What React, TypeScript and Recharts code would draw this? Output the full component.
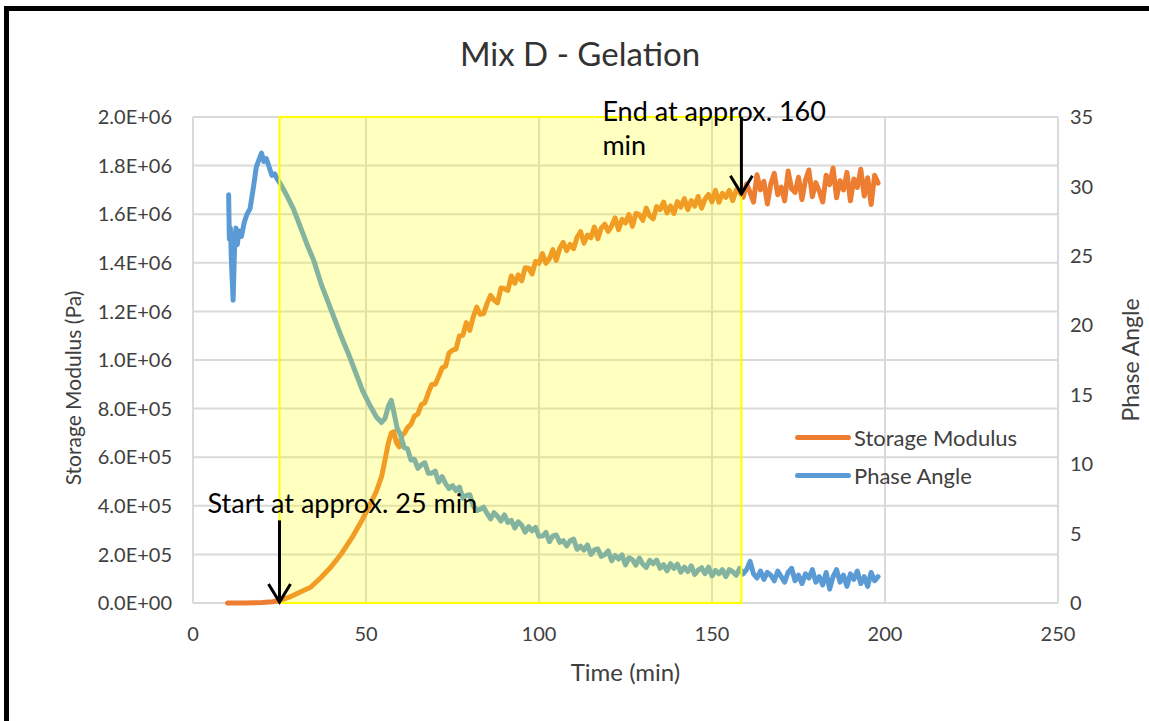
import React from 'react';
import {
  ComposedChart,
  Line,
  XAxis,
  YAxis,
  CartesianGrid,
  ReferenceArea,
  ReferenceLine,
  Legend,
} from 'recharts';

// ---- data -------------------------------------------------------------

const title = 'Mix D - Gelation';
const xTicks = [0, 50, 100, 150, 200, 250];
const leftTicks = [0, 2e5, 4e5, 6e5, 8e5, 1e6, 1.2e6, 1.4e6, 1.6e6, 1.8e6, 2e6];
const rightTicks = [0, 5, 10, 15, 20, 25, 30, 35];
const seriesOrder = ['Storage Modulus', 'Phase Angle'];

// Storage modulus, kPa — early (smooth) readings at irregular times
const modulusEarlyTime = [10, 15, 20, 23, 25, 28, 31, 34, 37, 40, 43, 46, 49, 51, 53, 54.5, 55.5, 56.5, 57.3, 58, 58.8, 59.6, 60.4, 61.2];
const modulusEarlyKPa = [0, 0, 2, 5, 10, 25, 45, 65, 105, 150, 205, 270, 345, 400, 460, 520, 590, 660, 700, 705, 660, 642, 690, 700];

// Storage modulus, kPa — logged once a minute from 62 min
const modulusLoggedStart = 62;
const modulusLoggedKPa = [
  722, 735, 769, 778, 816, 824, 864, 899, 900, 932,
  967, 975, 1028, 1041, 1045, 1099, 1102, 1154, 1122, 1177,
  1218, 1188, 1191, 1233, 1266, 1247, 1235, 1296, 1294, 1286,
  1346, 1316, 1350, 1326, 1380, 1378, 1354, 1406, 1398, 1438,
  1398, 1416, 1454, 1410, 1460, 1484, 1450, 1476, 1458, 1505,
  1528, 1481, 1514, 1503, 1547, 1499, 1543, 1559, 1529, 1552,
  1585, 1536, 1579, 1564, 1599, 1550, 1603, 1598, 1575, 1625,
  1593, 1581, 1631, 1619, 1650, 1605, 1634, 1603, 1652, 1629,
  1664, 1619, 1656, 1633, 1673, 1625, 1663, 1681, 1651, 1698,
  1649, 1686, 1669, 1698, 1656, 1700, 1690, 1670, 1724, 1690,
  1650, 1762, 1700, 1735, 1642, 1725, 1768, 1680, 1712, 1655,
  1778, 1705, 1690, 1752, 1660, 1740, 1782, 1672, 1730, 1695,
  1650, 1760, 1722, 1790, 1668, 1738, 1700, 1772, 1655, 1745,
  1710, 1785, 1675, 1750, 1640, 1760, 1728,
];

// Phase angle, degrees — early readings at irregular times
const phaseEarlyTime = [10.3, 10.5, 10.8, 11.2, 11.6, 12.0, 12.4, 12.8, 13.3, 14.0, 14.8, 15.6, 16.5, 17.5, 18.3, 19.2, 19.8, 20.5, 21.2, 22.0, 22.8, 23.6, 24.4, 25, 27, 29, 31, 33, 35, 37, 39, 41, 43, 45, 47, 49, 51, 53, 54.5, 55.5, 56.5, 57.3, 58, 59];
const phaseEarlyDeg = [29.4, 26.2, 27.0, 24.0, 21.8, 25.5, 27.0, 25.8, 26.8, 26.4, 27.4, 28.0, 28.4, 30.0, 31.4, 32.0, 32.4, 31.8, 32.0, 31.4, 30.8, 30.9, 30.5, 30.3, 29.4, 28.4, 27.1, 25.8, 24.6, 23.0, 21.7, 20.4, 19.1, 17.9, 16.6, 15.3, 14.3, 13.4, 13.0, 13.3, 14.2, 14.6, 13.8, 12.6];

// Phase angle, degrees — logged once a minute from 60 min
const phaseLoggedStart = 60;
const phaseLoggedDeg = [
  12.1, 11.2, 11.1, 10.3, 10.35, 9.7, 9.95, 10.1, 9.35, 9.35,
  9.5, 8.7, 9.1, 8.6, 8.25, 8.45, 8.1, 8.35, 7.55, 7.75,
  7.8, 7.0, 6.65, 6.75, 6.9, 6.45, 6.05, 6.5, 6.25, 5.9,
  6.35, 5.8, 5.95, 5.4, 5.85, 5.6, 5.1, 5.5, 5.2, 5.45,
  4.8, 4.82, 5.09, 4.41, 4.83, 4.9, 4.37, 4.49, 4.11, 4.48,
  4.6, 3.87, 4.09, 3.81, 4.18, 3.5, 3.82, 3.89, 3.36, 3.48,
  3.75, 3.04, 3.43, 3.17, 3.46, 2.75, 3.26, 3.12, 2.73, 3.24,
  2.8, 2.56, 3.07, 2.83, 3.09, 2.5, 2.76, 2.32, 2.83, 2.49,
  2.8, 2.22, 2.59, 2.26, 2.68, 2.05, 2.37, 2.54, 2.11, 2.58,
  1.95, 2.35, 2.1, 2.4, 1.9, 2.4, 2.25, 2.0, 2.5, 2.1,
  2.4, 3.0, 2.1, 1.8, 2.3, 1.7, 2.2, 2.0, 1.6, 2.3,
  1.9, 1.5, 2.2, 2.5, 1.6, 2.0, 1.4, 2.1, 1.8, 2.4,
  1.5, 1.9, 1.3, 2.2, 1.0, 1.9, 2.4, 1.5, 2.0, 1.2,
  2.1, 1.7, 2.3, 1.4, 1.9, 1.2, 2.2, 1.6, 1.9,
];

// Gelation window and its annotations
const gelStart = 25;
const gelEnd = 158.5;
const startArrowTop = 340000;
const startArrowTip = 0;
const endArrowTop = 2e6;
const endArrowTip = 1680000;
const startNote = ['Start at approx. 25 min'];
const endNote = ['End at approx. 160', 'min'];

// ---- rows -------------------------------------------------------------

const modulusRows = [
  ...modulusEarlyTime.map((t, i) => ({ t, modulus: modulusEarlyKPa[i] * 1000 })),
  ...modulusLoggedKPa.map((v, i) => ({ t: modulusLoggedStart + i, modulus: v * 1000 })),
];
const phaseRows = [
  ...phaseEarlyTime.map((t, i) => ({ t, phase: phaseEarlyDeg[i] })),
  ...phaseLoggedDeg.map((v, i) => ({ t: phaseLoggedStart + i, phase: v })),
];

// ---- styling ----------------------------------------------------------

const FONT = 'Lato, "Noto Sans", sans-serif';
const ORANGE = '#ED7D31';
const BLUE = '#5B9BD5';
const GRID = '#D9D9D9';
const TEXT = '#404040';

const sci = (v: number) => {
  const [m, e] = v.toExponential(1).split('e');
  const n = parseInt(e, 10);
  return `${m}E${n < 0 ? '-' : '+'}${String(Math.abs(n)).padStart(2, '0')}`;
};

const makeArrow = (lines: string[], dx: number, dy: number, gap: number) => (props: any) => {
  const { x1, y1, x2, y2 } = props;
  return (
    <g>
      <line x1={x1} y1={y1} x2={x2} y2={y2} stroke="#000" strokeWidth={3} />
      <polyline
        points={`${x2 - 11},${y2 - 19} ${x2},${y2 - 1} ${x2 + 11},${y2 - 19}`}
        fill="none"
        stroke="#000"
        strokeWidth={3}
      />
      <text x={x1 + dx} y={y1 + dy} fontFamily={FONT} fontSize={27} fill="#000">
        {lines.map((l, i) => (
          <tspan key={i} x={x1 + dx} dy={i === 0 ? 0 : gap}>
            {l}
          </tspan>
        ))}
      </text>
    </g>
  );
};

const AxisTitle = ({ text, dx, dy, size }: { text: string; dx: number; dy: number; size: number }) => (props: any) => {
  const vb = props.viewBox;
  const cx = vb.x + vb.width / 2 + dx;
  const cy = vb.y + vb.height / 2 + dy;
  return (
    <text
      x={cx}
      y={cy}
      transform={`rotate(-90, ${cx}, ${cy})`}
      textAnchor="middle"
      dominantBaseline="central"
      fontFamily={FONT}
      fontSize={size}
      fill={TEXT}
    >
      {text}
    </text>
  );
};

const LegendBox = (props: any) => {
  const items = [...(props.payload || [])].sort(
    (a: any, b: any) => seriesOrder.indexOf(a.value) - seriesOrder.indexOf(b.value),
  );
  return (
    <div style={{ fontFamily: FONT }}>
      {items.map((p: any) => (
        <div key={p.value} style={{ display: 'flex', alignItems: 'center', height: 38 }}>
          <span
            style={{
              display: 'inline-block',
              width: 56,
              height: 5,
              borderRadius: 3,
              background: p.color,
              marginRight: 3,
            }}
          />
          <span style={{ fontSize: 22, color: TEXT, whiteSpace: 'nowrap' }}>{p.value}</span>
        </div>
      ))}
    </div>
  );
};

export default function App() {
  return (
    <div
      style={{
        position: 'absolute',
        left: 0,
        top: 0,
        width: 1149,
        height: 721,
        background: '#fff',
        overflow: 'hidden',
        fontFamily: FONT,
      }}
    >
      <div
        style={{
          position: 'absolute',
          left: 4,
          top: 6,
          width: 1200,
          height: 800,
          borderLeft: '5px solid #000',
          borderTop: '5px solid #000',
          boxSizing: 'border-box',
        }}
      />
      <div
        style={{
          position: 'absolute',
          left: 0,
          width: 1160,
          top: 33,
          textAlign: 'center',
          fontSize: 33,
          color: '#333',
          lineHeight: '40px',
        }}
      >
        {title}
      </div>
      <div style={{ position: 'absolute', left: 0, top: 0 }}>
        <ComposedChart
          width={1149}
          height={721}
          margin={{ top: 117, right: 0, bottom: 38, left: 73 }}
          style={{ fontFamily: FONT }}
        >
          <CartesianGrid stroke={GRID} strokeWidth={2} yAxisId="left" />
          <XAxis
            type="number"
            dataKey="t"
            domain={[0, 250]}
            ticks={xTicks}
            allowDataOverflow
            axisLine={false}
            tickLine={false}
            tickSize={0}
            tickMargin={24}
            height={80}
            tick={{ fontSize: 20, fill: TEXT, fontFamily: FONT }}
            label={{ value: 'Time (min)', position: 'insideBottom', offset: 2, fontSize: 24, fill: TEXT, fontFamily: FONT }}
          />
          <YAxis
            yAxisId="left"
            domain={[0, 2e6]}
            ticks={leftTicks}
            tickFormatter={sci}
            axisLine={false}
            tickLine={false}
            tickSize={0}
            tickMargin={21}
            width={120}
            tick={{ fontSize: 20, fill: TEXT, fontFamily: FONT }}
            label={AxisTitle({ text: 'Storage Modulus (Pa)', dx: -61, dy: 28, size: 21 })}
          />
          <YAxis
            yAxisId="right"
            orientation="right"
            domain={[0, 35]}
            ticks={rightTicks}
            axisLine={false}
            tickLine={false}
            tickSize={0}
            tickMargin={12}
            width={91}
            tick={{ fontSize: 20, fill: TEXT, fontFamily: FONT }}
            label={AxisTitle({ text: 'Phase Angle', dx: 26, dy: 0, size: 23 })}
          />
          <Line
            yAxisId="left"
            data={modulusRows}
            dataKey="modulus"
            name="Storage Modulus"
            stroke={ORANGE}
            strokeWidth={5}
            strokeLinejoin="round"
            strokeLinecap="round"
            dot={false}
            isAnimationActive={false}
          />
          <Line
            yAxisId="right"
            data={phaseRows}
            dataKey="phase"
            name="Phase Angle"
            stroke={BLUE}
            strokeWidth={5}
            strokeLinejoin="round"
            strokeLinecap="round"
            dot={false}
            isAnimationActive={false}
          />
          <ReferenceArea
            yAxisId="left"
            x1={gelStart}
            x2={gelEnd}
            y1={0}
            y2={2e6}
            fill="#FFFF00"
            fillOpacity={0.25}
            stroke="#FFFF00"
            strokeWidth={2}
            strokeOpacity={1}
            zIndex={450}
          />
          <ReferenceLine
            yAxisId="left"
            segment={[
              { x: gelStart, y: startArrowTop },
              { x: gelStart, y: startArrowTip },
            ]}
            shape={makeArrow(startNote, -72, -7, 34)}
            zIndex={2000}
          />
          <ReferenceLine
            yAxisId="left"
            segment={[
              { x: gelEnd, y: endArrowTop },
              { x: gelEnd, y: endArrowTip },
            ]}
            shape={makeArrow(endNote, -139, 4, 34)}
            zIndex={2000}
          />
          <Legend
            layout="vertical"
            align="center"
            verticalAlign="middle"
            content={LegendBox}
            wrapperStyle={{ position: 'absolute', left: 795, top: 418, width: 'auto', height: 'auto' }}
          />
        </ComposedChart>
      </div>
    </div>
  );
}
